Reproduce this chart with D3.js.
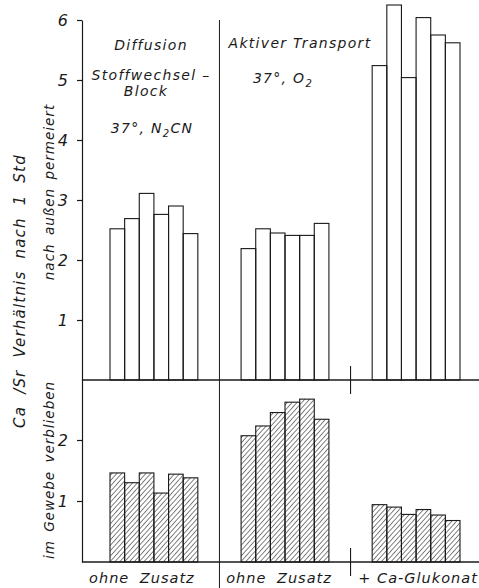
<!DOCTYPE html>
<html lang="de">
<head>
    <meta charset="UTF-8">
    <script src="https://d3js.org/d3.v7.min.js"></script>
    <title>Ca/Sr Verhältnis nach 1 Std</title>
    <style>
        html, body {
            margin: 0px;
            padding: 0px;
            background-color: #fff;
        }
        svg text {
            font-family: "DejaVu Sans", sans-serif;
            font-style: italic;
            fill: #1a1a1a;
        }
    </style>
</head>
<body>
    <div id="chart"></div>
    <script>

        // 3 groups of 6 bars each
        let groupLabels = ['ohne Zusatz', 'ohne Zusatz', '+ Ca-Glukonat'];
        let permeiert = [
            [2.52, 2.69, 3.11, 2.76, 2.90, 2.44],
            [2.19, 2.52, 2.45, 2.41, 2.41, 2.61],
            [5.24, 6.25, 5.04, 6.04, 5.75, 5.62]
        ];
        let verblieben = [
            [1.46, 1.30, 1.46, 1.13, 1.44, 1.38],
            [2.07, 2.23, 2.45, 2.62, 2.67, 2.34],
            [0.94, 0.90, 0.78, 0.86, 0.77, 0.68]
        ];
        let topTicks = [1, 2, 3, 4, 5, 6];
        let botTicks = [1, 2];

        let width = 479, height = 588;
        let ink = '#1a1a1a';

        let svg = d3.select('#chart').append('svg')
            .attr('width', width).attr('height', height);

        let defs = svg.append('defs');
        defs.append('pattern')
            .attr('id', 'hatch')
            .attr('patternUnits', 'userSpaceOnUse')
            .attr('width', 3.6).attr('height', 3.6)
            .attr('patternTransform', 'rotate(42)')
            .append('line')
            .attr('x1', 0).attr('y1', 0).attr('x2', 0).attr('y2', 3.6)
            .attr('stroke', ink).attr('stroke-width', 1.1);

        let axisX = 82;
        let xGroup = d3.scaleBand().domain(d3.range(3)).range([110, 460]).paddingInner(0.33);
        let xBar = d3.scaleBand().domain(d3.range(6)).range([0, xGroup.bandwidth()]);

        let yTop = d3.scaleLinear().domain([0, 6]).range([380, 20]);
        let yBot = d3.scaleLinear().domain([0, 3]).range([562, 379]);

        // bars - upper panel
        permeiert.forEach((vals, g) => {
            svg.append('g').selectAll('rect')
                .data(vals)
                .join('rect')
                .attr('x', (d, i) => xGroup(g) + xBar(i))
                .attr('y', d => yTop(d))
                .attr('width', xBar.bandwidth())
                .attr('height', d => yTop(0) - yTop(d))
                .attr('fill', 'none')
                .attr('stroke', ink)
                .attr('stroke-width', 1.1);
        });

        // bars - lower panel, hatched
        verblieben.forEach((vals, g) => {
            svg.append('g').selectAll('rect')
                .data(vals)
                .join('rect')
                .attr('x', (d, i) => xGroup(g) + xBar(i))
                .attr('y', d => yBot(d))
                .attr('width', xBar.bandwidth())
                .attr('height', d => yBot(0) - yBot(d))
                .attr('fill', 'url(#hatch)')
                .attr('stroke', ink)
                .attr('stroke-width', 1.1);
        });

        // axes
        let topAxis = svg.append('g')
            .attr('transform', `translate(${axisX},0)`)
            .call(d3.axisLeft(yTop).tickValues(topTicks).tickSize(5).tickSizeOuter(0).tickPadding(9).tickFormat(d3.format('d')));
        let botAxis = svg.append('g')
            .attr('transform', `translate(${axisX},0)`)
            .call(d3.axisLeft(yBot).tickValues(botTicks).tickSize(5).tickSizeOuter(0).tickPadding(9).tickFormat(d3.format('d')));
        [topAxis, botAxis].forEach(a => {
            a.selectAll('path, line').attr('stroke', ink).attr('stroke-width', 1.2);
            a.selectAll('text')
                .attr('font-size', 16)
                .attr('font-family', '"DejaVu Sans", sans-serif')
                .attr('font-style', 'italic')
                .attr('fill', ink);
        });

        // baselines
        svg.append('line').attr('x1', axisX).attr('x2', width)
            .attr('y1', yTop(0)).attr('y2', yTop(0))
            .attr('stroke', ink).attr('stroke-width', 1.5);
        svg.append('line').attr('x1', axisX).attr('x2', width)
            .attr('y1', yBot(0)).attr('y2', yBot(0))
            .attr('stroke', ink).attr('stroke-width', 1.5);

        // separators
        let sep1 = (xGroup(0) + xGroup.bandwidth() + xGroup(1)) / 2;
        let sep2 = (xGroup(1) + xGroup.bandwidth() + xGroup(2)) / 2;
        svg.append('line').attr('x1', sep1).attr('x2', sep1)
            .attr('y1', yTop(6)).attr('y2', height)
            .attr('stroke', ink).attr('stroke-width', 1);
        [yTop(0), yBot(0)].forEach(y0 => {
            svg.append('line').attr('x1', sep2).attr('x2', sep2)
                .attr('y1', y0 - 14).attr('y2', y0 + 14)
                .attr('stroke', ink).attr('stroke-width', 1.1);
        });

        // panel annotations
        let note = (x, y, size) => svg.append('text')
            .attr('x', x).attr('y', y)
            .attr('text-anchor', 'middle')
            .attr('font-size', size)
            .attr('letter-spacing', 1.3);

        note(151, 50, 14).text('Diffusion');
        note(151, 80, 14).text('Stoffwechsel –');
        note(146, 96, 14).text('Block');
        let n2 = note(152, 133, 14);
        n2.append('tspan').text('37°,  N');
        n2.append('tspan').attr('dy', 4).attr('font-size', 10).text('2');
        n2.append('tspan').attr('dy', -4).text('CN');

        note(300, 48, 14).text('Aktiver Transport');
        let o2 = note(283, 83, 14);
        o2.append('tspan').text('37°, O');
        o2.append('tspan').attr('dy', 4).attr('font-size', 10).text('2');

        // group labels
        let labelShift = [-12, -6, 2];
        groupLabels.forEach((t, g) => {
            note(xGroup(g) + xGroup.bandwidth() / 2 + labelShift[g], 583, 14.5)
                .attr('letter-spacing', 1)
                .attr('word-spacing', g === 2 ? 0 : 5)
                .text(t);
        });

        // y titles
        svg.append('text')
            .attr('transform', 'translate(25,291) rotate(-90)')
            .attr('text-anchor', 'middle')
            .attr('font-size', 15)
            .attr('letter-spacing', 1.2)
            .attr('word-spacing', 6)
            .text('Ca /Sr Verhältnis  nach  1 Std');
        svg.append('text')
            .attr('transform', 'translate(54,192) rotate(-90)')
            .attr('text-anchor', 'middle')
            .attr('font-size', 13.5)
            .attr('letter-spacing', 1)
            .attr('word-spacing', 3)
            .text('nach  außen  permeiert');
        svg.append('text')
            .attr('transform', 'translate(54,470) rotate(-90)')
            .attr('text-anchor', 'middle')
            .attr('font-size', 13.5)
            .attr('letter-spacing', 1)
            .attr('word-spacing', 3)
            .text('im  Gewebe  verblieben');

    </script>
</body>
</html>
